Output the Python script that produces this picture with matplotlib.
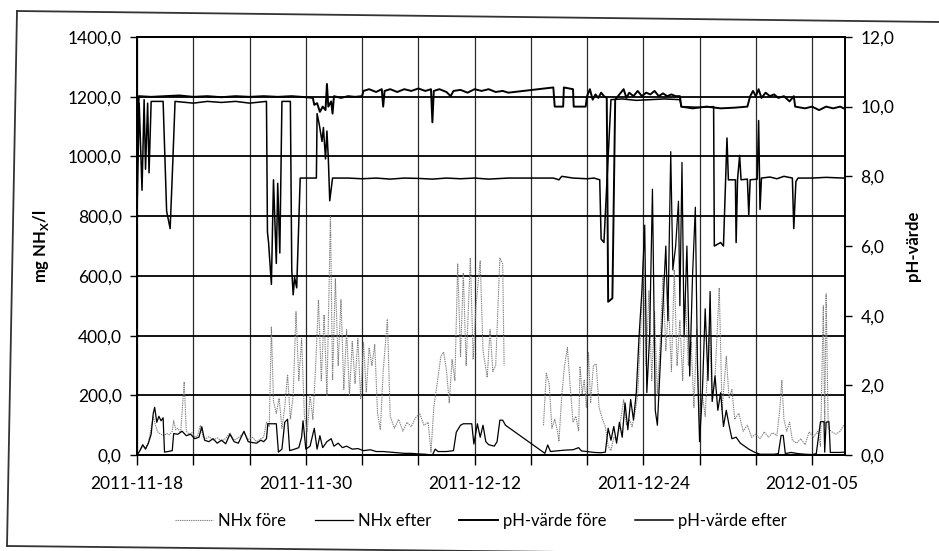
import numpy as np
import pandas as pd
import matplotlib
matplotlib.use("Agg")
import matplotlib.pyplot as plt
import matplotlib.dates as mdates
from matplotlib.ticker import FixedLocator, FuncFormatter
from matplotlib.lines import Line2D

plt.rcParams['font.family'] = ['Lato', 'DejaVu Sans']

# ---------------- data (days after 2011-11-18) ----------------
start_date = "2011-11-18"

nhx_fore_day = [0.0, 0.2, 0.4, 0.6, 0.8, 1.0, 1.15, 1.3, 1.5, 1.7, 1.9, 2.1, 2.3, 2.5, 2.6, 2.75, 2.9, 3.1,
                3.35, 3.5, 3.7, 3.9, 4.1, 4.3, 4.5, 4.7, 4.9, 5.1, 5.4, 5.7, 6.0, 6.3, 6.6, 6.9, 7.2, 7.6,
                7.9, 8.2, 8.5, 8.8, 9.0, 9.2, 9.4, 9.55, 9.7, 9.9, 10.1, 10.3, 10.5, 10.7, 10.9, 11.1, 11.3,
                11.5, 11.7, 11.9, 12.1, 12.3, 12.5, 12.7, 12.9, 13.1, 13.3, 13.5, 13.75, 13.9, 14.1, 14.3,
                14.5, 14.7, 14.9, 15.1, 15.3, 15.5, 15.7, 15.9, 16.1, 16.3, 16.5, 16.7, 16.9, 17.1, 17.3,
                17.5, 17.8, 18.0, 18.3, 18.6, 18.9, 19.2, 19.5, 19.8, 20.1, 20.4, 20.7, 20.9, 21.1, 21.4,
                21.6, 21.8, 22.0, 22.2, 22.4, 22.6, 22.8, 23.0, 23.2, 23.4, 23.7, 23.9, 24.1, 24.4, 24.6,
                24.9, 25.1, 25.3, 25.5, 25.8, 26.0, 26.1, 26.2, 28.8, 28.9, 29.1, 29.3, 29.5, 29.7, 29.9,
                30.0, 30.2, 30.4, 30.6, 30.8, 31.0, 31.2, 31.4, 31.5, 31.65, 31.8, 31.95, 32.1, 32.25,
                32.45, 32.65, 32.85, 33.1, 33.3, 33.5, 33.7, 33.9, 34.1, 34.3, 34.6, 34.8, 35.0, 35.2,
                35.4, 35.6, 35.8, 36.0, 36.2, 36.4, 36.6, 36.8, 37.0, 37.2, 37.4, 37.6, 37.8, 38.0, 38.2,
                38.4, 38.6, 38.8, 39.0, 39.2, 39.4, 39.6, 39.8, 40.0, 40.2, 40.4, 40.7, 40.9, 41.1, 41.4,
                41.6, 41.9, 42.1, 42.3, 42.5, 42.8, 43.1, 43.4, 43.7, 44.0, 44.3, 44.6, 44.9, 45.2, 45.5,
                45.7, 45.85, 46.0, 46.2, 46.4, 46.6, 46.9, 47.2, 47.5, 47.8, 48.1, 48.4, 48.6, 48.8, 48.9,
                49.0, 49.15, 49.4, 49.7, 50.0, 50.25]
nhx_fore_val = [0, 15, 30, 25, 40, 90, 130, 100, 75, 70, 65, 72, 68, 80, 115, 85, 90, 75,
                245, 80, 70, 75, 60, 65, 100, 60, 55, 62, 50, 58, 48, 55, 75, 50, 58, 75,
                52, 60, 45, 55, 60, 110, 95, 430, 180, 140, 190, 90, 160, 270, 120, 200, 480,
                250, 390, 130, 80, 200, 120, 300, 520, 250, 470, 200, 800, 250, 590, 300,
                520, 220, 420, 200, 380, 240, 390, 190, 380, 210, 360, 300, 370, 140, 85,
                280, 455, 130, 90, 120, 80, 110, 95, 125, 140, 100, 110, 10, 160, 260,
                330, 345, 285, 175, 320, 250, 640, 330, 610, 300, 660, 320, 500, 650, 350,
                260, 420, 280, 300, 660, 640, 300, np.nan, np.nan, 100, 274, 240, 90, 120, 80,
                46, 200, 300, 360, 230, 110, 130, 80, 297, 206, 251, 160, 343, 175,
                300, 305, 160, 120, 95, 30, 15, 60, 50, 90, 185, 100, 120, 95,
                140, 200, 400, 650, 300, 550, 250, 480, 200, 380, 600, 350, 500, 280, 620,
                300, 450, 250, 520, 300, 380, 160, 420, 100, 200, 130, 430, 180, 260, 560,
                150, 330, 190, 220, 120, 140, 80, 100, 60, 70, 55, 78, 60, 75, 65,
                150, 250, 120, 80, 110, 50, 40, 55, 35, 78, 60, 80, 30, 500, 100,
                540, 90, 78, 70, 80, 100]

nhx_efter_day = [0.0, 0.2, 0.4, 0.6, 0.8, 1.0, 1.15, 1.25, 1.4, 1.55, 1.7, 1.85, 1.95, 2.2, 2.5, 2.6,
                 2.9, 3.2, 3.5, 3.8, 4.1, 4.4, 4.6, 4.8, 5.1, 5.4, 5.7, 6.0, 6.3, 6.6, 6.9, 7.2, 7.6,
                 7.9, 8.2, 8.5, 8.8, 9.0, 9.2, 9.3, 9.9, 10.05, 10.3, 10.5, 10.7, 10.85, 11.2, 11.5,
                 11.7, 11.8, 12.0, 12.3, 12.6, 12.8, 13.0, 13.2, 13.5, 13.8, 14.0, 14.3, 14.6, 14.9,
                 15.3, 15.7, 16.1, 16.6, 17.0, 17.5, 18.0, 18.5, 19.0, 19.5, 20.0, 20.5, 21.0, 21.2,
                 21.4, 22.0, 22.5, 22.7, 23.0, 23.2, 23.8, 23.95, 24.2, 24.4, 24.6, 24.8, 25.0, 25.4,
                 25.6, 25.8, 26.0, 26.2, 29.0, 29.2, 29.4, 30.0, 30.5, 31.0, 31.4, 31.6, 32.0, 32.5,
                 33.0, 33.3, 33.5, 33.7, 33.9, 34.1, 34.3, 34.5, 34.7, 34.9, 35.1, 35.3, 35.5, 35.7,
                 35.9, 36.1, 36.25, 36.45, 36.65, 36.85, 37.0, 37.2, 37.4, 37.6, 37.75, 37.95, 38.1,
                 38.3, 38.5, 38.6, 38.75, 38.9, 39.1, 39.3, 39.5, 39.7, 39.85, 40.0, 40.2, 40.4, 40.6,
                 40.75, 40.9, 41.1, 41.3, 41.5, 41.7, 41.9, 42.1, 42.3, 42.6, 42.9, 43.2, 43.5, 43.9,
                 44.3, 44.8, 45.3, 45.6, 45.8, 45.95, 46.1, 46.5, 47.0, 47.5, 48.0, 48.3, 48.5, 48.6,
                 48.85, 48.9, 49.0, 49.2, 49.3, 50.0, 50.25]
nhx_efter_val = [0, 15, 35, 20, 40, 70, 140, 160, 110, 130, 115, 125, 10, 12, 15, 72,
                 70, 80, 65, 70, 55, 60, 95, 50, 45, 55, 40, 50, 38, 70, 45, 40, 80,
                 45, 42, 40, 50, 45, 55, 105, 105, 10, 20, 110, 120, 15, 20, 25,
                 60, 115, 20, 30, 90, 20, 65, 25, 45, 55, 30, 40, 25, 30,
                 20, 22, 15, 18, 12, 12, 10, 8, 6, 6, 4, 3, 0, 20,
                 12, 12, 15, 77, 100, 105, 105, 37, 105, 60, 100, 45, 35, 30,
                 45, 117, 117, 100, 6, 34, 12, 15, 17, 18, 25, 14, 12, 9,
                 8, 10, 90, 50, 96, 40, 110, 60, 175, 85, 186, 118, 209, 400,
                 550, 770, 209, 400, 890, 150, 100, 300, 500, 700, 450, 1016, 620,
                 700, 850, 500, 980, 400, 700, 265, 600, 830, 300, 45, 210, 490, 250,
                 548, 180, 265, 150, 209, 96, 150, 100, 55, 60, 40, 30, 20, 10,
                 3, 3, 3, 5, 66, 66, 5, 9, 5, 3, 2, 5, 78, 112,
                 112, 10, 110, 112, 9, 9, 10]

ph_fore_day = [0.0, 0.12, 1.0, 2.0, 3.0, 4.0, 5.0, 6.0, 7.0, 8.0, 9.0, 10.0, 11.0, 12.0, 12.5, 12.6,
               12.8, 13.0, 13.2, 13.4, 13.5, 13.6, 13.8, 13.9, 14.0, 14.5, 15.0, 15.5, 16.0, 16.1,
               16.5, 17.0, 17.4, 17.5, 17.6, 18.0, 18.5, 19.0, 19.5, 20.0, 20.5, 20.9, 21.0, 21.1,
               21.5, 22.0, 22.3, 22.5, 23.0, 23.5, 24.0, 24.5, 25.0, 25.5, 26.0, 26.4, 29.6, 29.7,
               30.3, 30.35, 31.0, 31.05, 31.9, 32.0, 32.2, 32.4, 32.6, 32.8, 33.0, 33.2, 33.4, 33.5,
               33.8, 34.0, 34.3, 34.6, 34.8, 35.0, 35.3, 35.6, 35.9, 36.2, 36.5, 36.8, 37.1, 37.4,
               37.7, 38.0, 38.3, 38.6, 38.7, 39.5, 40.5, 41.5, 42.5, 43.4, 43.6, 43.8, 44.0, 44.2,
               44.4, 44.7, 45.0, 45.3, 45.6, 46.0, 46.4, 46.7, 46.8, 47.5, 48.0, 48.5, 49.0, 49.5,
               50.0, 50.25]
ph_fore_val = [8.6, 10.3, 10.28, 10.3, 10.32, 10.28, 10.3, 10.27, 10.3, 10.28, 10.3, 10.28, 10.3, 10.27,
               10.25, 10.05, 10.1, 9.85, 10.0, 9.9, 10.65, 10.0, 10.15, 9.8, 10.3, 10.25, 10.3, 10.28,
               10.3, 10.45, 10.5, 10.42, 10.5, 10.0, 10.45, 10.5, 10.42, 10.5, 10.45, 10.52, 10.45,
               10.5, 9.55, 10.45, 10.5, 10.42, 10.3, 10.45, 10.48, 10.4, 10.5, 10.45, 10.5, 10.42,
               10.45, 10.4, 10.55, 10.0, 10.0, 10.55, 10.5, 10.0, 10.0, 10.3, 10.5, 10.2, 10.35, 10.25,
               10.4, 10.3, 10.25, 4.4, 4.5, 10.2, 10.35, 10.5, 10.25, 10.4, 10.3, 10.45, 10.3, 10.4,
               10.35, 10.45, 10.3, 10.38, 10.3, 10.35, 10.3, 10.3, 10.0, 9.95, 10.0, 9.95, 9.97, 10.0,
               10.3, 10.45, 10.3, 10.5, 10.25, 10.4, 10.3, 10.35, 10.25, 10.3, 10.15, 10.3, 10.0,
               9.95, 10.0, 9.9, 10.0, 9.95, 10.0, 9.95]

ph_efter_day = [0.0, 0.15, 0.35, 0.5, 0.6, 0.75, 0.85, 1.0, 1.85, 2.1, 2.35, 2.5, 2.7, 4.0, 5.0, 6.0,
                7.0, 8.0, 9.2, 9.27, 9.35, 9.55, 9.7, 9.9, 10.0, 10.15, 10.3, 10.9, 11.0, 11.1, 11.2,
                11.35, 11.6, 12.75, 12.8, 12.95, 13.15, 13.25, 13.4, 13.5, 13.6, 13.7, 13.9, 15.0,
                16.0, 17.0, 18.0, 19.0, 20.0, 21.0, 22.0, 23.0, 24.0, 25.0, 26.4, 29.6, 30.0, 30.2,
                31.0, 32.0, 32.5, 32.9, 33.0, 33.2, 33.7, 34.5, 35.5, 36.5, 37.5, 38.6, 38.7, 40.0,
                41.0, 41.05, 41.5, 41.7, 41.95, 42.05, 42.55, 42.6, 42.7, 42.85, 42.95, 43.4, 43.5,
                43.6, 44.1, 44.2, 44.3, 44.4, 45.0, 45.5, 46.0, 46.6, 46.7, 46.85, 47.0, 48.0, 49.0,
                50.25]
ph_efter_val = [7.0, 10.1, 7.6, 10.2, 8.2, 10.1, 8.1, 10.15, 10.15, 7.0, 6.5, 8.0, 10.15, 10.1, 10.15,
                10.12, 10.15, 10.1, 10.15, 6.4, 6.1, 4.9, 7.9, 5.5, 7.8, 5.8, 10.15, 10.15, 5.3, 4.6,
                5.1, 4.8, 7.95, 7.95, 9.8, 9.5, 9.0, 9.4, 8.5, 9.3, 8.5, 7.3, 7.95, 7.95,
                7.93, 7.95, 7.92, 7.95, 7.94, 7.92, 7.95, 7.93, 7.95, 7.92, 7.95, 7.95, 7.9, 8.0,
                7.95, 7.93, 7.95, 7.9, 6.2, 6.1, 10.2, 10.22, 10.18, 10.2, 10.22, 10.2, 10.0, 9.98,
                10.0, 6.0, 6.1, 6.0, 9.1, 7.9, 7.9, 6.1, 7.9, 8.6, 7.9, 7.92, 6.9,
                7.9, 7.92, 9.6, 7.05, 7.95, 7.98, 7.93, 8.0, 7.95, 6.5, 7.85, 7.95, 7.95, 7.97,
                7.95]

nhx_ticks = [0, 200, 400, 600, 800, 1000, 1200, 1400]
ph_ticks = [0, 2, 4, 6, 8, 10, 12]
grid_step_days = 4
label_step_days = 12
x_end_days = 50.35

legend_labels = ["NHx före", "NHx efter", "pH-värde före", "pH-värde efter"]

# ---------------- helpers ----------------
base = pd.Timestamp(start_date)


def to_dates(days):
    return base + pd.to_timedelta(np.asarray(days, dtype=float), unit="D")


def comma1(v, _pos=None):
    return f"{v:.1f}".replace(".", ",")


# ---------------- figure ----------------
fig = plt.figure(figsize=(9.39, 5.51), dpi=100)
ax = fig.add_axes([0.146, 0.174, 0.754, 0.759])
ax2 = ax.twinx()

# lines
l1, = ax.plot(to_dates(nhx_fore_day), nhx_fore_val, color="#808080", lw=0.8,
              linestyle=(0, (1.2, 0.8)), zorder=3)
l2, = ax.plot(to_dates(nhx_efter_day), nhx_efter_val, color="black", lw=0.9, zorder=4)
l3, = ax2.plot(to_dates(ph_fore_day), ph_fore_val, color="black", lw=1.4, zorder=5)
l4, = ax2.plot(to_dates(ph_efter_day), ph_efter_val, color="black", lw=1.1, zorder=5)

# axes limits
ax.set_ylim(nhx_ticks[0], nhx_ticks[-1])
ax2.set_ylim(ph_ticks[0], ph_ticks[-1])
ax.set_xlim(base, base + pd.Timedelta(days=x_end_days))

# y ticks
ax.yaxis.set_major_locator(FixedLocator(nhx_ticks))
ax.yaxis.set_major_formatter(FuncFormatter(comma1))
ax2.yaxis.set_major_locator(FixedLocator(ph_ticks))
ax2.yaxis.set_major_formatter(FuncFormatter(comma1))

# x ticks: grid every 4 days, labels every 12 days
grid_days = np.arange(0, x_end_days, grid_step_days)
xt = mdates.date2num(to_dates(grid_days))
ax.xaxis.set_major_locator(FixedLocator(xt))
lab_map = {round(x, 6): (d % label_step_days == 0) for x, d in zip(xt, grid_days)}


def date_fmt(x, _pos=None):
    if lab_map.get(round(x, 6), False):
        return mdates.num2date(x).strftime("%Y-%m-%d")
    return ""


ax.xaxis.set_major_formatter(FuncFormatter(date_fmt))

# grid
ax.yaxis.grid(True, color="black", lw=1.3)
ax.xaxis.grid(True, color="#2a2a2a", lw=0.9)
ax.set_axisbelow(True)

for a in (ax, ax2):
    for s in a.spines.values():
        s.set_color("black")
        s.set_linewidth(1.3)

ax.tick_params(axis="y", direction="out", length=5, width=1, labelsize=12.5, pad=6)
ax.tick_params(axis="x", direction="out", length=7, width=1, labelsize=12.5, pad=8)
ax2.tick_params(axis="y", direction="out", length=5, width=1, labelsize=12.5, pad=6)

ax.set_ylabel("mg NH$_\\mathregular{X}$/l", fontsize=12, fontweight="bold", labelpad=12)
ax2.set_ylabel("pH-värde", fontsize=12, fontweight="bold", labelpad=8)

# legend
fig.legend([l1, l2, l3, l4], legend_labels, loc="center", ncol=4,
           bbox_to_anchor=(0.512, 0.054), frameon=False, fontsize=12,
           handlelength=2.3, handletextpad=0.3, columnspacing=1.7)

# outer chart border (scanned, slightly rotated)
W, H = 939, 551
border = [((17, 11), (940, 22)), ((17, 11), (7, 546)), ((7, 546), (939, 556))]
for (x0, y0), (x1, y1) in border:
    fig.add_artist(Line2D([x0 / W, x1 / W], [1 - y0 / H, 1 - y1 / H],
                          transform=fig.transFigure, color="#333333", lw=1.3))

fig.savefig("out.png", dpi=100)
